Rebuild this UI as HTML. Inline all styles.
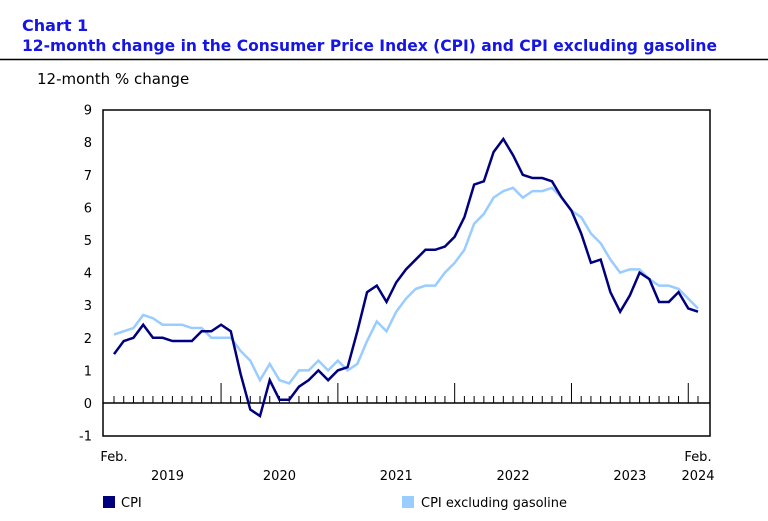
<!DOCTYPE html>
<html><head><meta charset="utf-8"><style>
body{margin:0;background:#fff;width:768px;height:516px;overflow:hidden;font-family:"Liberation Sans",sans-serif}
</style></head><body>
<svg width="768" height="516" xmlns="http://www.w3.org/2000/svg" id="svg">
<text x="22" y="31" font-size="16" font-weight="bold" fill="#1515e6" font-family="DejaVu Sans">Chart 1</text>
<text x="22" y="51" font-size="16" font-weight="bold" fill="#1515e6" font-family="DejaVu Sans" textLength="695" lengthAdjust="spacingAndGlyphs">12-month change in the Consumer Price Index (CPI) and CPI excluding gasoline</text>
<line x1="0" y1="59.5" x2="768" y2="59.5" stroke="#000" stroke-width="1.5"/>
<text x="37" y="84" font-size="15" fill="#000" font-family="DejaVu Sans">12-month % change</text>
<g id="axes"></g>
<g id="series"></g>
<rect x="103" y="496" width="12" height="12" fill="#00007f"/>
<text x="121" y="507" font-size="13" font-family="DejaVu Sans">CPI</text>
<rect x="402" y="496" width="12" height="12" fill="#99ccff"/>
<text x="421" y="507" font-size="13" font-family="DejaVu Sans">CPI excluding gasoline</text>
</svg>
<script>
const yTicks=[-1,0,1,2,3,4,5,6,7,8,9];
const yearLabels=["2019","2020","2021","2022","2023","2024"];
const cpi=[1.5,1.9,2.0,2.4,2.0,2.0,1.9,1.9,1.9,2.2,2.2,
2.4,2.2,0.9,-0.2,-0.4,0.7,0.1,0.1,0.5,0.7,1.0,0.7,
1.0,1.1,2.2,3.4,3.6,3.1,3.7,4.1,4.4,4.7,4.7,4.8,
5.1,5.7,6.7,6.8,7.7,8.1,7.6,7.0,6.9,6.9,6.8,6.3,
5.9,5.2,4.3,4.4,3.4,2.8,3.3,4.0,3.8,3.1,3.1,3.4,
2.9,2.8];
const cpiExGas=[2.1,2.2,2.3,2.7,2.6,2.4,2.4,2.4,2.3,2.3,2.0,
2.0,2.0,1.6,1.3,0.7,1.2,0.7,0.6,1.0,1.0,1.3,1.0,
1.3,1.0,1.2,1.9,2.5,2.2,2.8,3.2,3.5,3.6,3.6,4.0,
4.3,4.7,5.5,5.8,6.3,6.5,6.6,6.3,6.5,6.5,6.6,6.3,
5.9,5.7,5.2,4.9,4.4,4.0,4.1,4.1,3.8,3.6,3.6,3.5,
3.2,2.9];
const NS="http://www.w3.org/2000/svg";
const L=103,R=710,T=110,B=436;
const y=v=>403-v*32.6;
const x=i=>114+i*(584/60);
const ax=document.getElementById('axes'),se=document.getElementById('series');
function mk(tag,at,p){const e=document.createElementNS(NS,tag);for(const k in at)e.setAttribute(k,at[k]);p.appendChild(e);return e;}
const frame=mk('rect',{x:L,y:T,width:R-L,height:B-T,fill:'none',stroke:'#000','stroke-width':1.5},ax);


yTicks.forEach(v=>{const t=mk('text',{x:92,y:y(v)+5,'font-size':13,'text-anchor':'end','font-family':'DejaVu Sans'},ax);t.textContent=v;

});
const zl=mk('line',{x1:L,x2:R,y1:y(0),y2:y(0),stroke:'#000','stroke-width':1.5},ax);


for(let i=0;i<cpi.length;i++){const yr=(i-11)%12===0;const tk=mk('line',{x1:x(i),x2:x(i),y1:yr?383:396,y2:y(0),stroke:'#000','stroke-width':1},ax);

}
yearLabels.forEach((s,k)=>{let cx;if(k===0)cx=(x(0)+x(11))/2;else if(k===5)cx=x(60);else cx=(x(11+12*(k-1))+x(11+12*k))/2;
const t=mk('text',{x:cx,y:480,'font-size':13,'text-anchor':'middle','font-family':'DejaVu Sans'},ax);t.textContent=s;

});
[[0],[60]].forEach(([i])=>{const t=mk('text',{x:x(i),y:461,'font-size':13,'text-anchor':'middle','font-family':'DejaVu Sans'},ax);t.textContent='Feb.';

});
function line(d,c,n){const p=mk('polyline',{points:d.map((v,i)=>x(i)+','+y(v)).join(' '),fill:'none',stroke:c,'stroke-width':2.5,'stroke-linejoin':'miter'},se);

}
line(cpiExGas,'#99ccff','line-cpi-ex-gasoline');
line(cpi,'#00007f','line-cpi');
</script>
</body></html>
